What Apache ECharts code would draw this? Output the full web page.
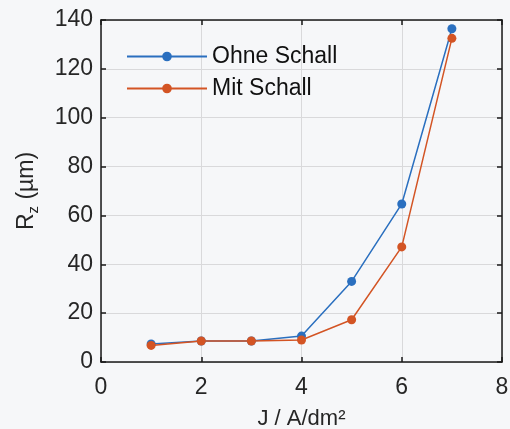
<!DOCTYPE html>
<html>
<head>
<meta charset="utf-8">
<script src="https://cdn.jsdelivr.net/npm/echarts@6/dist/echarts.min.js"></script>
<style>
html,body{margin:0;padding:0;background:#f6f7f9;}
#chart{width:510px;height:429px;}
</style>
</head>
<body>
<div id="chart"></div>
<script>
// Current density J (A/dm²)
const currentDensity = [1, 2, 3, 4, 5, 6, 7];
// Roughness Rz (µm) without ultrasound
const ohneSchall = [7.4, 8.6, 8.6, 10.6, 33.0, 64.7, 136.4];
// Roughness Rz (µm) with ultrasound
const mitSchall = [6.8, 8.6, 8.6, 9.0, 17.3, 47.1, 132.5];
const xTicks = [0, 2, 4, 6, 8];
const yTicks = [0, 20, 40, 60, 80, 100, 120, 140];

const font = 'Liberation Sans, Arial, sans-serif';
const textColor = '#262626';

const chart = echarts.init(document.getElementById('chart'), null, {renderer: 'canvas'});

const pair = arr => currentDensity.map((x, i) => [x, arr[i]]);

const baseX = {
  type: 'value', min: xTicks[0], max: xTicks[xTicks.length - 1], interval: 2
};
const baseY = {
  type: 'value', min: yTicks[0], max: yTicks[yTicks.length - 1], interval: 20
};
// frame line on each side of the plot box; kept at its own edge
const frameLine = () => ({show: true, onZero: false, lineStyle: {color: '#1a1a1a', width: 1.5}});
// short tick marks pointing into the plot
const tick = () => ({show: true, inside: true, length: 5, lineStyle: {color: '#1a1a1a', width: 1.5}});

chart.setOption({
  backgroundColor: '#f6f7f9',
  animation: false,
  grid: {left: 101, right: 8, top: 20, bottom: 67, outerBoundsMode: 'none', containLabel: false},
  legend: {
    left: 126, top: 45, orient: 'vertical', padding: 0,
    itemWidth: 80, itemHeight: 12, itemGap: 9,
    textStyle: {fontFamily: font, fontSize: 23, color: '#111'},
    data: ['Ohne Schall', 'Mit Schall']
  },
  xAxis: [
    Object.assign({}, baseX, {
      position: 'bottom',
      name: 'J / A/dm²', nameLocation: 'middle', nameGap: 46,
      nameTextStyle: {fontFamily: font, fontSize: 22, color: textColor},
      axisLine: frameLine(),
      axisTick: tick(),
      axisLabel: {fontFamily: font, fontSize: 23, color: textColor, margin: 14},
      splitLine: {show: true, lineStyle: {color: '#d9d9db', width: 1}}
    }),
    Object.assign({}, baseX, {
      position: 'top',
      axisLine: frameLine(),
      axisTick: tick(),
      axisLabel: {show: false},
      splitLine: {show: false}
    })
  ],
  yAxis: [
    Object.assign({}, baseY, {
      position: 'left',
      name: '{r|R}{s|z}{r| (µm)}', nameLocation: 'middle', nameGap: 60, nameRotate: 90,
      nameTextStyle: {
        fontFamily: font, color: textColor,
        rich: {
          r: {fontFamily: font, fontSize: 23, color: textColor, lineHeight: 28, verticalAlign: 'middle'},
          s: {fontFamily: font, fontSize: 15, color: textColor, lineHeight: 28, verticalAlign: 'bottom', padding: [12, 0, 0, 0]}
        }
      },
      axisLine: frameLine(),
      axisTick: tick(),
      axisLabel: {fontFamily: font, fontSize: 23, color: textColor, margin: 8},
      splitLine: {show: true, lineStyle: {color: '#d9d9db', width: 1}}
    }),
    Object.assign({}, baseY, {
      position: 'right',
      axisLine: frameLine(),
      axisTick: tick(),
      axisLabel: {show: false},
      splitLine: {show: false}
    })
  ],
  series: [
    {
      name: 'Ohne Schall', type: 'line', data: pair(ohneSchall),
      symbol: 'circle', symbolSize: 9, showAllSymbol: true,
      itemStyle: {color: '#2a6fbf'}, lineStyle: {color: '#2a6fbf', width: 1.5},
      z: 3
    },
    {
      name: 'Mit Schall', type: 'line', data: pair(mitSchall),
      symbol: 'circle', symbolSize: 9, showAllSymbol: true,
      itemStyle: {color: '#d35424'}, lineStyle: {color: '#d35424', width: 1.5},
      z: 4
    }
  ]
});
</script>
</body>
</html>
